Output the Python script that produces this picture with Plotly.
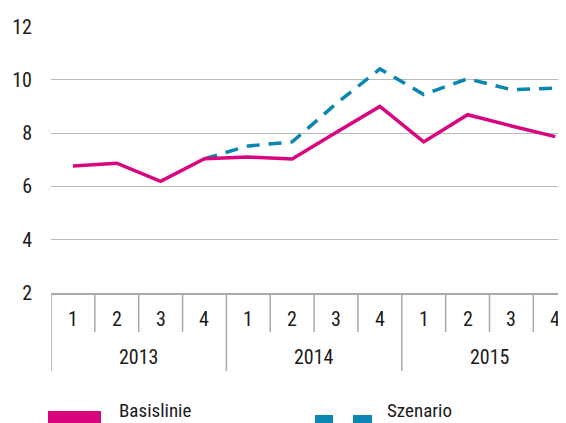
import plotly.graph_objects as go

# data
years = ["2013", "2014", "2015"]
quarters = ["1", "2", "3", "4"]
basislinie = [6.77, 6.87, 6.19, 7.04, 7.10, 7.03, 8.02, 9.00, 7.67, 8.69, 8.27, 7.87]
szenario = [None, None, None, 7.04, 7.52, 7.67, 9.10, 10.41, 9.45, 10.04, 9.63, 9.69]
y_ticks = [2, 4, 6, 8, 10, 12]

PINK = "#d9057f"
BLUE = "#0a86b0"
GREY = "#a8a8a8"
TEXT = "#1a1a1a"
FONT = "Roboto Condensed, Liberation Sans, sans-serif"
FS = 20

W, H = 566, 423
OFF = 8                      # page body margin of the browser
M_L, M_T = 43, 18
M_B = H - M_T - 267
PLOT_W = W - M_L
CAT_W = 43.85


def py(px_below):
    # pixels below the x axis -> paper y
    return -px_below / 267


def px(screen_x):
    # screenshot x -> paper x
    return (screen_x - OFF - M_L) / PLOT_W


n = len(years) * len(quarters)
xs = list(range(n))

fig = go.Figure()
fig.add_trace(go.Scatter(x=xs, y=szenario, mode="lines", name="Szenario",
                         line=dict(color=BLUE, width=3.5, dash="13px,9px")))
fig.add_trace(go.Scatter(x=xs, y=basislinie, mode="lines", name="Basislinie",
                         line=dict(color=PINK, width=3.5)))

shapes = []
annotations = []
for i in range(n + 1):
    long_tick = i % len(quarters) == 0
    shapes.append(dict(type="line", xref="x", yref="paper",
                       x0=i - 0.5, x1=i - 0.5, y0=0, y1=py(78 if long_tick else 39),
                       line=dict(color=GREY, width=1.5)))
for i in range(n):
    annotations.append(dict(x=i, y=py(25.5), xref="x", yref="paper",
                            text=quarters[i % len(quarters)], showarrow=False,
                            font=dict(size=FS, color=TEXT), yanchor="middle"))
for j, yr in enumerate(years):
    annotations.append(dict(x=j * len(quarters) + 1.5, y=py(64), xref="x", yref="paper",
                            text=yr, showarrow=False,
                            font=dict(size=FS, color=TEXT), yanchor="middle"))

# legend, drawn by hand
shapes.append(dict(type="rect", xref="paper", yref="paper",
                   x0=px(48), x1=px(101), y0=py(118), y1=py(140),
                   fillcolor=PINK, line=dict(width=0)))
for a, b in [(315, 333), (353, 372)]:
    shapes.append(dict(type="rect", xref="paper", yref="paper",
                       x0=px(a), x1=px(b), y0=py(122), y1=py(140),
                       fillcolor=BLUE, line=dict(width=0)))
for x0, name in [(119, "Basislinie"), (387, "Szenario")]:
    annotations.append(dict(x=px(x0), y=py(117), xref="paper", yref="paper",
                            text=name, showarrow=False, xanchor="left", yanchor="middle",
                            xshift=-2, font=dict(size=19, color=TEXT)))

fig.update_layout(
    width=W, height=H,
    margin=dict(l=M_L, r=0, t=M_T, b=M_B, pad=0),
    paper_bgcolor="white", plot_bgcolor="white",
    showlegend=False,
    font=dict(family=FONT, size=FS, color=TEXT),
    shapes=shapes, annotations=annotations,
    xaxis=dict(range=[-0.5, -0.5 + PLOT_W / CAT_W], showgrid=False, zeroline=False,
               showticklabels=False, showline=True, linecolor=GREY, linewidth=1.5,
               fixedrange=True),
    yaxis=dict(range=[2, 12.02], tickvals=y_ticks, showgrid=True, gridcolor="#b9b9b9",
               gridwidth=1, zeroline=False, showline=False, ticklabelstandoff=18,
               fixedrange=True),
)

fig.write_html("out.html")
